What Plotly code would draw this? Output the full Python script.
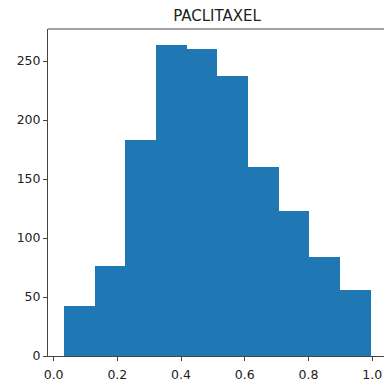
import plotly.graph_objects as go

# Histogram data
bin_start = 0.0326
bin_end = 0.9953
counts = [42, 76, 183, 264, 260, 237, 160, 123, 84, 56]
x_ticks = [0.0, 0.2, 0.4, 0.6, 0.8, 1.0]
y_ticks = [0, 50, 100, 150, 200, 250]
title_text = "PACLITAXEL"

n = len(counts)
w = (bin_end - bin_start) / n
centers = [bin_start + w * (i + 0.5) for i in range(n)]

fig = go.Figure(go.Bar(
    x=centers, y=counts, width=[w] * n,
    marker=dict(color="#1f77b4", line=dict(width=0)),
))

axis_font = dict(family="DejaVu Sans", size=12.5, color="#222")
fig.update_layout(
    width=384, height=382,
    margin=dict(l=48, r=0, t=29, b=23.5, pad=0),
    plot_bgcolor="white", paper_bgcolor="white",
    showlegend=False,
    bargap=0,
    title=dict(text=title_text, x=217 / 384, xref="container", xanchor="center",
               y=1 - 15.5 / 382, yref="container", yanchor="middle",
               font=dict(family="DejaVu Sans", size=15, color="#222")),
    xaxis=dict(range=[-0.0176, 1.037], tickvals=x_ticks, tickformat=".1f",
               ticks="outside", ticklen=4, tickwidth=1, tickcolor="#444",
               ticklabelstandoff=3,
               showline=True, linecolor="#444", linewidth=1,
               showgrid=False, zeroline=False, tickfont=axis_font),
    yaxis=dict(range=[0, 277.2], tickvals=y_ticks,
               ticks="outside", ticklen=4, tickwidth=1, tickcolor="#444",
               showline=True, linecolor="#444", linewidth=1,
               showgrid=False, zeroline=False, tickfont=axis_font),
    shapes=[dict(type="line", xref="paper", yref="paper", x0=0, x1=1, y0=1, y1=1,
                 line=dict(color="#444", width=1))],
)

fig.write_html("out.html")
